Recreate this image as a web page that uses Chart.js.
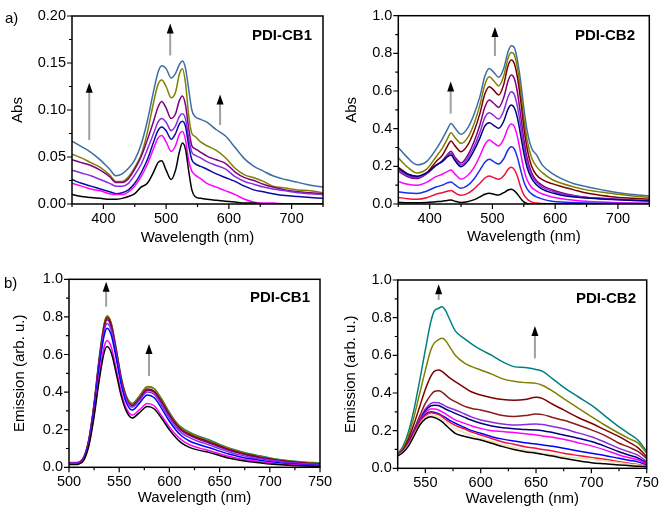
<!DOCTYPE html>
<html><head><meta charset="utf-8">
<script src="https://cdn.jsdelivr.net/npm/chart.js@4.4.1/dist/chart.umd.min.js"></script>
<style>
body{margin:0;background:#fff;}
#wrap{position:relative;width:661px;height:513px;overflow:hidden;font-family:'Liberation Sans',Arial,sans-serif;background:#fff;}
canvas{position:absolute;}
.lbl{position:absolute;font-size:15px;line-height:15px;color:#000;white-space:nowrap;}
.nm{font-weight:bold;}
</style></head><body>
<div id="wrap">
<canvas id="cA" width="330" height="250" style="left:0px;top:0px"></canvas>
<canvas id="cB" width="331" height="250" style="left:330px;top:0px"></canvas>
<canvas id="cC" width="345" height="263" style="left:0px;top:250px"></canvas>
<canvas id="cD" width="331" height="263" style="left:330px;top:250px"></canvas>
<div class="lbl" style="left:5px;top:10px">a)</div>
<div class="lbl" style="left:4px;top:275px">b)</div>
<div class="lbl nm" style="left:252px;top:27px">PDI-CB1</div>
<div class="lbl nm" style="left:575px;top:27px">PDI-CB2</div>
<div class="lbl nm" style="left:250px;top:289px">PDI-CB1</div>
<div class="lbl nm" style="left:576px;top:290px">PDI-CB2</div>
</div>
<script>
// ---------- a) PDI-CB1 absorption ----------
const absCB1_x = [350,365,380,395,410,420,430,440,450,460,470,480,487,493,500,508,515,521,526,531,536,541,546,555,565,580,595,610,625,640,655,670,690,710,730,750];
const absCB1_steel = [0.067,0.061,0.055,0.047,0.037,0.030,0.032,0.038,0.047,0.063,0.088,0.120,0.140,0.147,0.144,0.134,0.139,0.148,0.152,0.144,0.122,0.100,0.093,0.090,0.087,0.079,0.072,0.060,0.048,0.040,0.035,0.030,0.026,0.023,0.020,0.018];
const absCB1_olive = [0.053,0.049,0.044,0.039,0.031,0.024,0.024,0.029,0.039,0.052,0.076,0.108,0.127,0.132,0.125,0.113,0.119,0.138,0.144,0.128,0.094,0.075,0.072,0.066,0.062,0.057,0.049,0.038,0.031,0.028,0.024,0.019,0.017,0.015,0.014,0.012];
const absCB1_purple = [0.047,0.044,0.041,0.036,0.029,0.023,0.023,0.027,0.037,0.050,0.068,0.088,0.103,0.109,0.102,0.091,0.096,0.110,0.115,0.105,0.080,0.062,0.059,0.055,0.051,0.047,0.043,0.034,0.028,0.025,0.021,0.018,0.015,0.013,0.012,0.011];
const absCB1_violet = [0.036,0.033,0.030,0.026,0.022,0.019,0.019,0.022,0.031,0.042,0.058,0.075,0.087,0.091,0.087,0.078,0.083,0.093,0.096,0.090,0.070,0.055,0.052,0.049,0.045,0.041,0.037,0.029,0.024,0.021,0.018,0.016,0.014,0.012,0.011,0.010];
const absCB1_navy = [0.026,0.022,0.019,0.016,0.013,0.011,0.012,0.015,0.022,0.033,0.047,0.066,0.078,0.082,0.078,0.069,0.075,0.085,0.088,0.082,0.062,0.047,0.043,0.040,0.037,0.032,0.028,0.024,0.019,0.015,0.013,0.011,0.009,0.008,0.007,0.006];
const absCB1_magenta = [0.022,0.019,0.016,0.014,0.011,0.010,0.010,0.013,0.019,0.029,0.042,0.059,0.070,0.073,0.066,0.056,0.062,0.074,0.077,0.068,0.046,0.035,0.031,0.027,0.022,0.018,0.014,0.010,0.005,0.002,0.001,0.001,0.000,0.000,0.000,0.000];
const absCB1_black = [0.010,0.008,0.007,0.006,0.005,0.005,0.006,0.008,0.011,0.018,0.022,0.034,0.044,0.046,0.036,0.026,0.036,0.055,0.065,0.058,0.035,0.015,0.008,0.006,0.005,0.004,0.003,0.002,0.001,0.001,0.000,0.000,0.000,0.000,0.000,0.000];

// ---------- a) PDI-CB2 absorption ----------
const absCB2_x = [350,365,380,395,410,420,428,434,440,450,460,470,480,488,495,502,510,518,525,530,535,540,545,550,555,562,570,580,595,610,630,650,675,700,725,750];
const absCB2_steel = [0.300,0.245,0.208,0.225,0.290,0.345,0.395,0.428,0.405,0.370,0.400,0.470,0.570,0.680,0.720,0.700,0.673,0.720,0.810,0.841,0.830,0.760,0.650,0.510,0.395,0.300,0.262,0.205,0.163,0.135,0.108,0.092,0.075,0.060,0.050,0.042];
const absCB2_olive = [0.245,0.195,0.165,0.185,0.250,0.295,0.345,0.378,0.355,0.322,0.350,0.420,0.525,0.635,0.676,0.655,0.627,0.680,0.775,0.804,0.790,0.720,0.600,0.460,0.345,0.250,0.200,0.165,0.130,0.110,0.090,0.075,0.062,0.052,0.043,0.035];
const absCB2_maroon = [0.195,0.160,0.145,0.165,0.225,0.258,0.305,0.335,0.310,0.278,0.310,0.380,0.480,0.585,0.623,0.605,0.579,0.635,0.735,0.765,0.745,0.670,0.550,0.410,0.300,0.205,0.155,0.128,0.108,0.093,0.075,0.058,0.045,0.035,0.030,0.025];
const absCB2_purple = [0.175,0.145,0.135,0.160,0.205,0.230,0.262,0.280,0.250,0.218,0.255,0.325,0.420,0.515,0.552,0.535,0.513,0.565,0.655,0.685,0.665,0.590,0.470,0.345,0.250,0.170,0.125,0.098,0.076,0.060,0.045,0.036,0.030,0.025,0.021,0.018];
const absCB2_violet = [0.180,0.150,0.142,0.162,0.205,0.228,0.258,0.270,0.240,0.207,0.240,0.300,0.380,0.460,0.485,0.470,0.451,0.495,0.570,0.596,0.580,0.515,0.415,0.310,0.225,0.155,0.115,0.088,0.068,0.054,0.042,0.035,0.028,0.024,0.020,0.017];
const absCB2_navy = [0.190,0.158,0.148,0.165,0.205,0.225,0.250,0.260,0.232,0.198,0.225,0.280,0.350,0.415,0.432,0.418,0.402,0.440,0.505,0.526,0.510,0.455,0.365,0.272,0.198,0.138,0.102,0.078,0.059,0.047,0.037,0.032,0.026,0.022,0.019,0.016];
const absCB2_magenta = [0.120,0.105,0.100,0.115,0.145,0.158,0.172,0.180,0.160,0.132,0.150,0.190,0.255,0.315,0.340,0.325,0.308,0.345,0.405,0.425,0.410,0.355,0.270,0.185,0.130,0.090,0.070,0.053,0.037,0.028,0.020,0.014,0.010,0.007,0.005,0.004];
const absCB2_blue = [0.065,0.058,0.056,0.068,0.090,0.100,0.112,0.117,0.103,0.083,0.097,0.130,0.180,0.222,0.237,0.225,0.212,0.240,0.288,0.304,0.292,0.245,0.180,0.120,0.082,0.055,0.038,0.026,0.015,0.010,0.007,0.005,0.004,0.003,0.002,0.002];
const absCB2_red = [0.035,0.028,0.025,0.033,0.052,0.060,0.068,0.072,0.060,0.046,0.055,0.078,0.110,0.138,0.149,0.140,0.131,0.150,0.185,0.195,0.183,0.145,0.090,0.050,0.028,0.011,0.005,0.002,0,0,0,0,0,0,0,0];
const absCB2_black = [0.009,0.007,0.006,0.008,0.012,0.015,0.019,0.021,0.015,0.008,0.012,0.022,0.038,0.052,0.057,0.052,0.048,0.060,0.074,0.078,0.070,0.052,0.030,0.011,0.003,0,0,0,0,0,0,0,0,0,0,0];

// ---------- b) PDI-CB1 emission ----------
const emCB1_x = [500,505,510,515,520,525,530,535,538,542,547,552,557,563,570,578,585,592,600,607,612,620,630,640,650,660,670,680,690,700,715,730,750];
const emCB1_black = [0.015,0.015,0.018,0.040,0.120,0.270,0.460,0.610,0.642,0.610,0.500,0.380,0.300,0.262,0.290,0.323,0.310,0.262,0.200,0.155,0.130,0.106,0.090,0.078,0.063,0.048,0.038,0.030,0.024,0.018,0.012,0.008,0.005];
const emCB1_magenta = [0.020,0.020,0.022,0.045,0.130,0.285,0.485,0.640,0.674,0.640,0.525,0.400,0.315,0.278,0.305,0.340,0.326,0.276,0.215,0.170,0.146,0.120,0.102,0.088,0.072,0.057,0.046,0.037,0.030,0.023,0.016,0.011,0.008];
const emCB1_blue = [0.020,0.020,0.023,0.050,0.140,0.310,0.530,0.700,0.740,0.705,0.580,0.440,0.345,0.305,0.340,0.385,0.370,0.315,0.245,0.195,0.168,0.140,0.120,0.104,0.086,0.069,0.056,0.045,0.037,0.030,0.021,0.015,0.010];
const emCB1_violet = [0.022,0.022,0.025,0.052,0.145,0.320,0.545,0.722,0.765,0.730,0.600,0.455,0.360,0.320,0.355,0.400,0.387,0.332,0.262,0.210,0.183,0.158,0.136,0.118,0.098,0.080,0.066,0.054,0.045,0.037,0.027,0.020,0.014];
const emCB1_purple = [0.022,0.022,0.025,0.053,0.148,0.328,0.558,0.740,0.785,0.748,0.615,0.465,0.366,0.326,0.362,0.410,0.398,0.345,0.274,0.222,0.195,0.170,0.147,0.128,0.108,0.089,0.074,0.061,0.051,0.042,0.031,0.023,0.016];
const emCB1_maroon = [0.022,0.022,0.025,0.054,0.150,0.332,0.565,0.750,0.795,0.758,0.622,0.470,0.370,0.330,0.366,0.416,0.404,0.352,0.280,0.228,0.201,0.176,0.153,0.134,0.113,0.093,0.078,0.065,0.054,0.045,0.033,0.025,0.018];
const emCB1_olive = [0.024,0.024,0.027,0.056,0.153,0.338,0.575,0.762,0.806,0.768,0.630,0.478,0.378,0.338,0.376,0.430,0.418,0.365,0.290,0.236,0.208,0.184,0.160,0.140,0.119,0.099,0.083,0.069,0.058,0.048,0.036,0.028,0.021];
const emCB1_teal = [0.025,0.025,0.028,0.057,0.155,0.340,0.578,0.760,0.802,0.766,0.630,0.478,0.380,0.340,0.378,0.428,0.418,0.366,0.292,0.238,0.212,0.187,0.164,0.145,0.122,0.102,0.086,0.072,0.061,0.050,0.038,0.030,0.023];

// ---------- b) PDI-CB2 emission ----------
const emCB2_x = [525,530,535,540,545,550,555,558,562,565,568,572,577,585,592,600,610,620,630,640,650,656,665,675,688,700,712,725,735,742,750];
const emCB2_teal = [0.076,0.12,0.20,0.32,0.47,0.63,0.78,0.835,0.85,0.858,0.84,0.79,0.73,0.69,0.66,0.63,0.60,0.565,0.54,0.535,0.525,0.515,0.475,0.43,0.38,0.335,0.28,0.22,0.18,0.15,0.09];
const emCB2_olive = [0.075,0.11,0.18,0.28,0.40,0.52,0.63,0.665,0.683,0.69,0.68,0.645,0.60,0.56,0.54,0.522,0.50,0.475,0.462,0.455,0.451,0.44,0.41,0.37,0.32,0.274,0.23,0.186,0.155,0.135,0.08];
const emCB2_maroon = [0.072,0.10,0.16,0.24,0.33,0.42,0.49,0.515,0.522,0.515,0.50,0.48,0.46,0.43,0.405,0.389,0.375,0.365,0.362,0.365,0.377,0.37,0.34,0.31,0.27,0.239,0.205,0.168,0.135,0.11,0.062];
const emCB2_brown = [0.070,0.095,0.145,0.21,0.28,0.345,0.39,0.408,0.412,0.405,0.39,0.37,0.354,0.33,0.318,0.31,0.295,0.28,0.275,0.28,0.288,0.285,0.27,0.255,0.23,0.204,0.175,0.133,0.11,0.09,0.053];
const emCB2_violet = [0.072,0.095,0.14,0.20,0.26,0.315,0.345,0.35,0.348,0.34,0.33,0.32,0.31,0.29,0.272,0.257,0.245,0.235,0.23,0.232,0.235,0.232,0.222,0.21,0.188,0.168,0.14,0.106,0.085,0.07,0.035];
const emCB2_navy = [0.07,0.092,0.137,0.195,0.255,0.305,0.332,0.335,0.333,0.325,0.315,0.305,0.292,0.272,0.255,0.239,0.225,0.215,0.21,0.206,0.204,0.2,0.19,0.177,0.16,0.142,0.118,0.088,0.068,0.055,0.027];
const emCB2_magenta = [0.07,0.09,0.133,0.19,0.25,0.295,0.315,0.315,0.31,0.30,0.29,0.275,0.257,0.24,0.225,0.212,0.20,0.195,0.19,0.183,0.177,0.172,0.165,0.154,0.136,0.119,0.098,0.071,0.055,0.045,0.023];
const emCB2_blue = [0.07,0.09,0.13,0.185,0.245,0.285,0.30,0.298,0.29,0.28,0.27,0.255,0.239,0.218,0.20,0.186,0.168,0.155,0.145,0.136,0.129,0.124,0.117,0.106,0.092,0.08,0.068,0.053,0.042,0.034,0.018];
const emCB2_red = [0.07,0.09,0.13,0.185,0.245,0.28,0.295,0.292,0.285,0.275,0.26,0.245,0.228,0.21,0.192,0.177,0.158,0.14,0.128,0.115,0.106,0.1,0.092,0.08,0.068,0.058,0.048,0.035,0.026,0.02,0.012];
const emCB2_beige = [0.068,0.088,0.125,0.18,0.235,0.27,0.282,0.28,0.272,0.262,0.25,0.232,0.21,0.19,0.172,0.158,0.142,0.125,0.11,0.096,0.086,0.08,0.072,0.062,0.055,0.048,0.04,0.03,0.022,0.018,0.01];
const emCB2_black = [0.066,0.085,0.12,0.175,0.23,0.262,0.274,0.27,0.26,0.248,0.232,0.21,0.186,0.17,0.16,0.15,0.133,0.115,0.1,0.088,0.08,0.074,0.065,0.053,0.04,0.03,0.024,0.018,0.014,0.011,0.009];

const F = "'Liberation Sans', Arial, sans-serif";
function isMaj(v, step){ const r = v/step; return Math.abs(r - Math.round(r)) < 1e-6; }

const framePlugin = {
  id: 'frame',
  afterDraw(chart, args, o){
    const {ctx, chartArea:a, scales:{x, y}} = chart;
    ctx.save();
    ctx.strokeStyle = '#000';
    ctx.lineWidth = 1.2;
    ctx.beginPath();
    x.ticks.forEach(t => { const px = x.getPixelForValue(t.value); const L = isMaj(t.value, o.xMajor) ? 5 : 3; ctx.moveTo(px, a.bottom); ctx.lineTo(px, a.bottom + L); });
    y.ticks.forEach(t => { const py = y.getPixelForValue(t.value); const L = isMaj(t.value, o.yMajor) ? 5 : 3; ctx.moveTo(a.left, py); ctx.lineTo(a.left - L, py); });
    ctx.stroke();
    ctx.lineWidth = 1.5;
    ctx.strokeRect(a.left, a.top, a.right - a.left, a.bottom - a.top);
    (o.arrows || []).forEach(ar => {
      const px = x.getPixelForValue(ar.x), pb = y.getPixelForValue(ar.from), pt = y.getPixelForValue(ar.to);
      ctx.strokeStyle = '#a0a0a0'; ctx.lineWidth = 2;
      ctx.beginPath(); ctx.moveTo(px, pb); ctx.lineTo(px, pt + 9); ctx.stroke();
      ctx.fillStyle = '#000';
      ctx.beginPath(); ctx.moveTo(px, pt); ctx.lineTo(px - 3.5, pt + 10); ctx.lineTo(px + 3.5, pt + 10); ctx.closePath(); ctx.fill();
    });
    ctx.restore();
  }
};

const panels = [
  {id:'cA', xs:absCB1_x, series:[[absCB1_black,'#000000'],[absCB1_magenta,'#ff00ff'],[absCB1_navy,'#0a0aa0'],[absCB1_violet,'#8a2be2'],[absCB1_purple,'#800080'],[absCB1_olive,'#808000'],[absCB1_steel,'#3a6ea5']],
   xMin:350,xMax:750,xStep:50,xMajor:100, yMin:0,yMax:0.2,yStep:0.025,yMajor:0.05,yDec:2, yTitle:'Abs',
   yw:72, xh:46, pad:{left:0,right:7,top:16,bottom:0}, yTitlePad:9, xTitlePad:2.7,
   arrows:[{x:377.5,from:0.068,to:0.129},{x:506.5,from:0.158,to:0.192},{x:586,from:0.084,to:0.1165}]},
  {id:'cB', xs:absCB2_x, series:[[absCB2_black,'#000000'],[absCB2_red,'#f0103c'],[absCB2_blue,'#1a2cf0'],[absCB2_magenta,'#ff00ff'],[absCB2_navy,'#00007f'],[absCB2_violet,'#8a2be2'],[absCB2_purple,'#800080'],[absCB2_maroon,'#800000'],[absCB2_olive,'#808000'],[absCB2_steel,'#3a6ea5']],
   xMin:350,xMax:750,xStep:50,xMajor:100, yMin:0,yMax:1,yStep:0.1,yMajor:0.2,yDec:1, yTitle:'Abs',
   yw:68.3, xh:46, pad:{left:0,right:11.7,top:15.7,bottom:0}, yTitlePad:12.7, xTitlePad:3.7,
   arrows:[{x:433.5,from:0.48,to:0.65},{x:504,from:0.786,to:0.94}]},
  {id:'cC', xs:emCB1_x, series:[[emCB1_black,'#000000'],[emCB1_magenta,'#ff00ff'],[emCB1_blue,'#0000ff'],[emCB1_violet,'#8a2be2'],[emCB1_purple,'#800080'],[emCB1_maroon,'#800000'],[emCB1_olive,'#808000'],[emCB1_teal,'#008080']],
   xMin:500,xMax:750,xStep:25,xMajor:50, yMin:0,yMax:1,yStep:0.1,yMajor:0.2,yDec:1, yTitle:'Emission (arb. u.)',
   yw:69, xh:45.7, pad:{left:0,right:25,top:29.3,bottom:0}, yTitlePad:11, xTitlePad:6,
   arrows:[{x:537,from:0.854,to:0.987},{x:579.7,from:0.486,to:0.656}]},
  {id:'cD', xs:emCB2_x, series:[[emCB2_black,'#000000'],[emCB2_beige,'#eee0a8'],[emCB2_red,'#f0103c'],[emCB2_blue,'#0000ff'],[emCB2_magenta,'#ff00ff'],[emCB2_navy,'#00007f'],[emCB2_violet,'#8a2be2'],[emCB2_brown,'#8b1a1a'],[emCB2_maroon,'#800000'],[emCB2_olive,'#808000'],[emCB2_teal,'#008080']],
   xMin:525,xMax:750,xStep:25,xMajor:50, yMin:0,yMax:1,yStep:0.1,yMajor:0.2,yDec:1, yTitle:'Emission (arb. u.)',
   yw:67.7, xh:44.7, pad:{left:0,right:14.3,top:30,bottom:0}, yTitlePad:11.7, xTitlePad:4.7,
   arrows:[{x:562,from:0.894,to:0.977},{x:649,from:0.584,to:0.756}]}
];

panels.forEach(p => {
  const datasets = p.series.map(([ys, col]) => ({
    data: p.xs.map((x, i) => ({x, y: ys[i]})),
    borderColor: col, borderWidth: 1.5, pointRadius: 0, fill: false,
    cubicInterpolationMode: 'monotone'
  }));
  new Chart(document.getElementById(p.id), {
    type: 'line',
    data: {datasets},
    options: {
      responsive: false, animation: false, devicePixelRatio: 1,
      layout: {padding: p.pad},
      plugins: {legend: {display: false}, tooltip: {enabled: false},
        frame: {xMajor: p.xMajor, yMajor: p.yMajor, arrows: p.arrows}},
      scales: {
        x: {type: 'linear', min: p.xMin, max: p.xMax,
          ticks: {stepSize: p.xStep, autoSkip: false, maxRotation: 0, padding: 1, color: '#000',
            font: {family: F, size: 14.5},
            callback: v => isMaj(v, p.xMajor) ? String(Math.round(v)) : ''},
          grid: {drawOnChartArea: false, drawTicks: true, tickLength: 5, tickColor: 'rgba(0,0,0,0)'},
          border: {display: false},
          title: {display: true, text: 'Wavelength (nm)', color: '#000', font: {family: F, size: 15}, padding: {top: 0, bottom: p.xTitlePad}},
          afterFit: s => { s.height = p.xh; s.paddingLeft = 0; s.paddingRight = 0; }
        },
        y: {type: 'linear', min: p.yMin, max: p.yMax,
          ticks: {stepSize: p.yStep, autoSkip: false, padding: 1, color: '#000',
            font: {family: F, size: 14.5},
            callback: v => isMaj(v, p.yMajor) ? v.toFixed(p.yDec) : ''},
          grid: {drawOnChartArea: false, drawTicks: true, tickLength: 5, tickColor: 'rgba(0,0,0,0)'},
          border: {display: false},
          title: {display: true, text: p.yTitle, color: '#000', font: {family: F, size: 15}, padding: {top: p.yTitlePad, bottom: 0}},
          afterFit: s => { s.width = p.yw; s.paddingTop = 0; s.paddingBottom = 0; }
        }
      }
    },
    plugins: [framePlugin]
  });
});
</script>
</body></html>
